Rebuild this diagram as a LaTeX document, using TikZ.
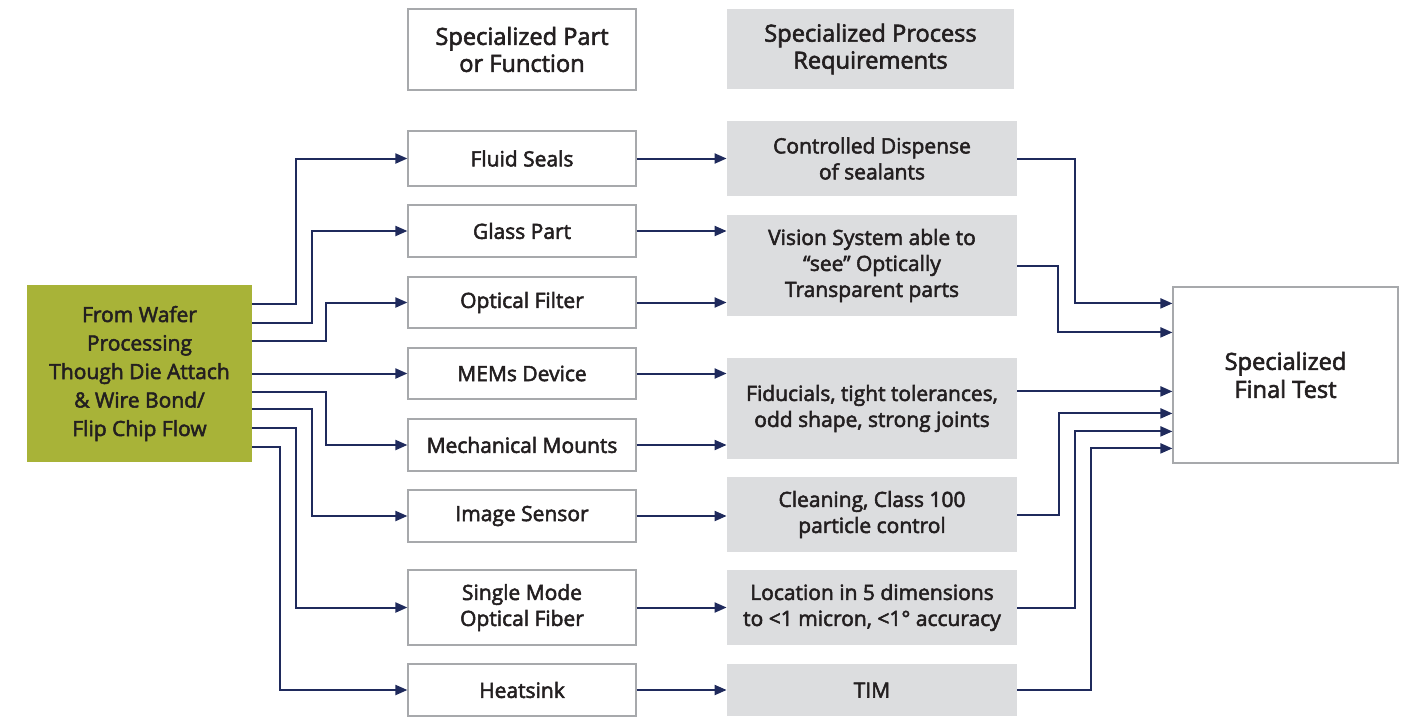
\documentclass[tikz,border=0pt]{standalone}
\usepackage{fontspec}
\usepackage{tikz}
\usetikzlibrary{positioning,arrows.meta,calc}
\newfontfamily\boxfont{Open Sans}[UprightFeatures={FakeBold=2.5}]
\definecolor{navy}{HTML}{1F2A5C}
\definecolor{wafergreen}{HTML}{A8B338}
\definecolor{reqgray}{HTML}{DCDDDF}
\definecolor{edge}{HTML}{A7A9AC}
\definecolor{ink}{HTML}{231F20}

\begin{document}
\begin{tikzpicture}[x=0.5pt,y=-0.5pt,
   every node/.style={font=\boxfont\fontsize{10.5}{13}\selectfont,text=ink,align=center,inner sep=0pt},
   part/.style={draw=edge,line width=0.6pt,fill=white,minimum width=114pt},
   req/.style={fill=reqgray,minimum width=145pt},
   head/.style={font=\boxfont\fontsize{11.8}{13.5}\selectfont},
   flow/.style={draw=navy,line width=1pt,-{Triangle[length=6pt,width=5pt]}}]
  \useasboundingbox (0,0) rectangle (1407,718);
  % column heads
  \node[part,head,minimum height=40.5pt] (hpart) at (522,49.5) {Specialized Part\\or Function};
  \node[req,head,minimum width=143.5pt,minimum height=40pt] (hreq) at (870.5,49) {Specialized Process\\Requirements};
  % source
  \node[fill=wafergreen,minimum width=112.5pt,minimum height=88.5pt,
        font=\boxfont\fontsize{10.5}{14.25}\selectfont] (src) at (139.5,373.5)
        {From Wafer\\Processing\\Though Die Attach\\\& Wire Bond/\\Flip Chip Flow};
  % parts
  \node[part,minimum height=27.5pt] (fluid)  at (522,158.5) {Fluid Seals};
  \node[part,minimum height=26pt]   (glass)  at (522,231)   {Glass Part};
  \node[part,minimum height=25.5pt] (filter) at (522,302.5) {Optical Filter};
  \node[part,minimum height=25.5pt] (mems)   at (522,373.5) {MEMs Device};
  \node[part,minimum height=26pt]   (mount)  at (522,445)   {Mechanical Mounts};
  \node[part,minimum height=26pt]   (sensor) at (522,516)   {Image Sensor};
  \node[part,minimum height=37.5pt] (fiber)  at (522,607.5) {Single Mode\\Optical Fiber};
  \node[part,minimum height=26pt]   (heat)   at (522,690)   {Heatsink};
  % requirements
  \node[req,minimum height=37.5pt] (disp)   at (872,158.5) {Controlled Dispense\\of sealants};
  \node[req,minimum height=50.5pt] (vision) at (872,265.5) {Vision System able to\\“see” Optically\\Transparent parts};
  \node[req,minimum height=50.5pt] (fid)    at (872,408.5) {Fiducials, tight tolerances,\\odd shape, strong joints};
  \node[req,minimum height=37.5pt] (clean)  at (872,514.5) {Cleaning, Class 100\\particle control};
  \node[req,minimum height=37.5pt] (loc)    at (872,607.5) {Location in 5 dimensions\\to <1 micron, <1° accuracy};
  \node[req,minimum height=26pt]   (tim)    at (872,690)   {TIM};
  % final test
  \node[part,minimum width=112.5pt,minimum height=88pt,
        font=\boxfont\fontsize{11.8}{14}\selectfont] (final) at (1285.5,375)
        {Specialized\\Final Test};
  \coordinate (in1) at ([yshift=-8.5pt]final.north west);
  \coordinate (in2) at ([yshift=-23pt]final.north west);
  \coordinate (in3) at ([yshift=-52.5pt]final.north west);
  \coordinate (in4) at ([yshift=-63.5pt]final.north west);
  \coordinate (in5) at ([yshift=-72.5pt]final.north west);
  \coordinate (in6) at ([yshift=-81pt]final.north west);

  % source to parts
  \draw[flow] ([yshift=-9.5pt]src.north east)  -- ++(44,0) |- (fluid);
  \draw[flow] ([yshift=-19pt]src.north east)   -- ++(60,0) |- (glass);
  \draw[flow] ([yshift=-28pt]src.north east)   -- ++(74,0) |- (filter);
  \draw[flow] (src) -- (mems);
  \draw[flow] ([yshift=-53.5pt]src.north east) -- ++(74,0) |- (mount);
  \draw[flow] ([yshift=-62pt]src.north east)   -- ++(60,0) |- (sensor);
  \draw[flow] ([yshift=-71.5pt]src.north east) -- ++(44,0) |- (fiber);
  \draw[flow] ([yshift=-81pt]src.north east)   -- ++(28,0) |- (heat);
  % parts to requirements
  \draw[flow] (fluid) -- (disp);
  \draw[flow] (glass.east)  -- (glass.east -| vision.west);
  \draw[flow] (filter.east) -- (filter.east -| vision.west);
  \draw[flow] (mems.east)   -- (mems.east -| fid.west);
  \draw[flow] (mount.east)  -- (mount.east -| fid.west);
  \draw[flow] (sensor.east) -- (sensor.east -| clean.west);
  \draw[flow] (fiber) -- (loc);
  \draw[flow] (heat) -- (tim);
  % requirements to final test
  \draw[flow] (disp.east)   -- ++(58,0) |- (in1);
  \draw[flow] (vision.east) -- ++(41,0) |- (in2);
  \draw[flow] (fid.east |- in3) -- (in3);
  \draw[flow] (clean.east)  -- ++(42,0) |- (in4);
  \draw[flow] (loc.east)    -- ++(58,0) |- (in5);
  \draw[flow] (tim.east)    -- ++(74,0) |- (in6);
\end{tikzpicture}
\end{document}
